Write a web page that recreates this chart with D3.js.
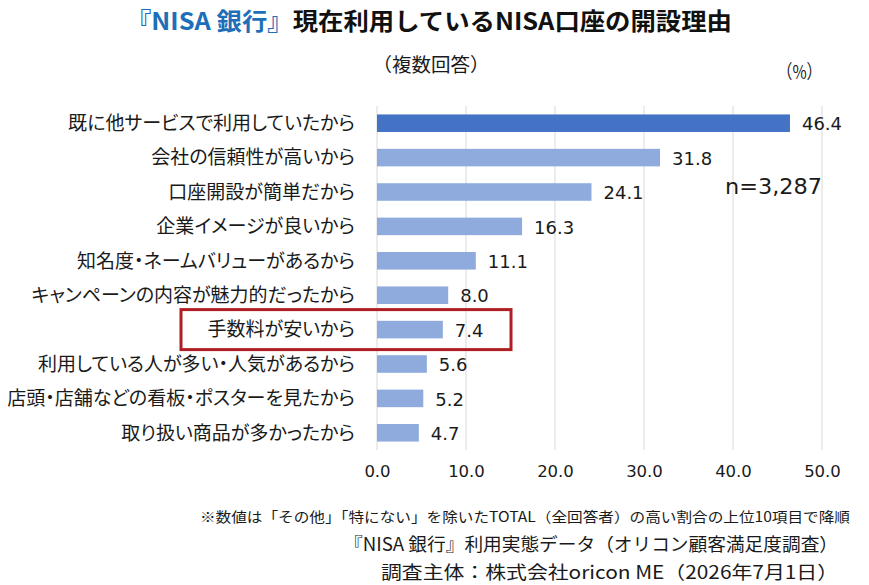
<!DOCTYPE html>
<html>
<head>
<meta charset="utf-8">
<script src="https://cdn.jsdelivr.net/npm/d3@7"></script>
<style>
	body { margin: 0; background: #fff; }
	text { font-family: 'Noto Sans CJK JP', 'Noto Sans', sans-serif; }
	.num { font-family: 'DejaVu Sans', sans-serif; }
	.cat { font-feature-settings: 'palt' 1; }
</style>
</head>
<body>
<div id="chart"></div>
<script>
// data
const reasons = [
	'既に他サービスで利用していたから',
	'会社の信頼性が高いから',
	'口座開設が簡単だから',
	'企業イメージが良いから',
	'知名度・ネームバリューがあるから',
	'キャンペーンの内容が魅力的だったから',
	'手数料が安いから',
	'利用している人が多い・人気があるから',
	'店頭・店舗などの看板・ポスターを見たから',
	'取り扱い商品が多かったから',
];
const values = [46.4, 31.8, 24.1, 16.3, 11.1, 8.0, 7.4, 5.6, 5.2, 4.7];
const xTicks = [0, 10, 20, 30, 40, 50];
const highlighted = '手数料が安いから';

const W = 869, H = 585;
const margin = { top: 106, right: 47, bottom: 135, left: 377 };
const width = W - margin.left - margin.right,
	height = H - margin.top - margin.bottom;

const svg = d3
	.select('#chart')
	.append('svg')
	.attr('width', W)
	.attr('height', H);

const g = svg.append('g').attr('transform', `translate(${margin.left},${margin.top})`);

const x = d3.scaleLinear().domain([0, 50]).range([0, width]);
const y = d3.scaleBand().domain(reasons).range([0, height]).paddingInner(0.49).paddingOuter(0.245);

// gridlines
g.selectAll('.grid')
	.data(xTicks)
	.enter()
	.append('line')
	.attr('x1', (d) => x(d))
	.attr('x2', (d) => x(d))
	.attr('y1', 0)
	.attr('y2', height)
	.attr('stroke', '#d9d9d9')
	.attr('stroke-width', 1);

// bars
g.selectAll('.bar')
	.data(reasons)
	.enter()
	.append('rect')
	.attr('x', x(0))
	.attr('y', (d) => y(d))
	.attr('width', (d, i) => x(values[i]) - x(0))
	.attr('height', y.bandwidth())
	.attr('fill', (d, i) => (i === 0 ? '#4472C4' : '#8FAADC'));

// value labels
g.selectAll('.val')
	.data(reasons)
	.enter()
	.append('text')
	.attr('class', 'num')
	.attr('x', (d, i) => x(values[i]) + 12)
	.attr('y', (d) => y(d) + y.bandwidth() / 2)
	.attr('dy', '0.4em')
	.style('font-size', '18px')
	.style('fill', '#1a1a1a')
	.text((d, i) => values[i].toFixed(1));

// category labels
g.selectAll('.cat')
	.data(reasons)
	.enter()
	.append('text')
	.attr('class', 'cat')
	.attr('x', -22)
	.attr('y', (d) => y(d) + y.bandwidth() / 2)
	.attr('dy', '0.36em')
	.attr('text-anchor', 'end')
	.style('font-size', '19px')
	.style('fill', '#1a1a1a')
	.text((d) => d);

// x axis
const xAxis = g
	.append('g')
	.attr('transform', `translate(0, ${height})`)
	.call(d3.axisBottom(x).tickValues(xTicks).tickFormat(d3.format('.1f')).tickSize(0).tickPadding(15));
xAxis.select('.domain').remove();
xAxis.selectAll('text')
	.style('font-size', '16.5px')
	.style('fill', '#1a1a1a')
	.style('font-family', "'DejaVu Sans', sans-serif");

// highlight box
const hy = y(highlighted) + y.bandwidth() / 2;
g.append('rect')
	.attr('x', -196)
	.attr('y', hy - 20)
	.attr('width', 330)
	.attr('height', 40)
	.attr('fill', 'none')
	.attr('stroke', '#B01E23')
	.attr('stroke-width', 3);

// n
svg.append('text')
	.attr('class', 'num')
	.attr('x', 725)
	.attr('y', 194)
	.attr('textLength', 97)
	.attr('lengthAdjust', 'spacingAndGlyphs')
	.style('font-size', '21px')
	.style('fill', '#1a1a1a')
	.text('n=3,287');

// title
const title = svg.append('text')
	.attr('x', 429)
	.attr('y', 30)
	.attr('text-anchor', 'middle')
	.attr('textLength', 606)
	.attr('lengthAdjust', 'spacingAndGlyphs')
	.style('font-size', '23.5px')
	.style('font-weight', 'bold');
title.append('tspan').style('fill', '#1F6FB8').text('『NISA 銀行』');
title.append('tspan').style('fill', '#111').text('現在利用しているNISA口座の開設理由');

svg.append('text')
	.attr('x', 431)
	.attr('y', 72)
	.attr('text-anchor', 'middle')
	.attr('textLength', 117)
	.attr('lengthAdjust', 'spacingAndGlyphs')
	.style('font-size', '19px')
	.style('fill', '#1a1a1a')
	.text('（複数回答）');

svg.append('text')
	.attr('x', 777)
	.attr('y', 79)
	.attr('textLength', 45)
	.attr('lengthAdjust', 'spacingAndGlyphs')
	.style('font-size', '19px')
	.style('fill', '#1a1a1a')
	.text('（%）');

// footnotes
const notes = [
	{ t: '※数値は「その他」「特にない」を除いたTOTAL（全回答者）の高い割合の上位10項目で降順', x: 200, y: 522, len: 650, size: 14 },
	{ t: '『NISA 銀行』利用実態データ（オリコン顧客満足度調査）', x: 344, y: 551, len: 494, size: 18 },
	{ t: '調査主体：株式会社oricon ME（2026年7月1日）', x: 381, y: 579, len: 457, size: 18 },
];
svg.selectAll('.note')
	.data(notes)
	.enter()
	.append('text')
	.attr('x', (d) => d.x)
	.attr('y', (d) => d.y)
	.attr('textLength', (d) => d.len)
	.attr('lengthAdjust', 'spacingAndGlyphs')
	.style('font-size', (d) => d.size + 'px')
	.style('fill', '#1a1a1a')
	.text((d) => d.t);
</script>
</body>
</html>
